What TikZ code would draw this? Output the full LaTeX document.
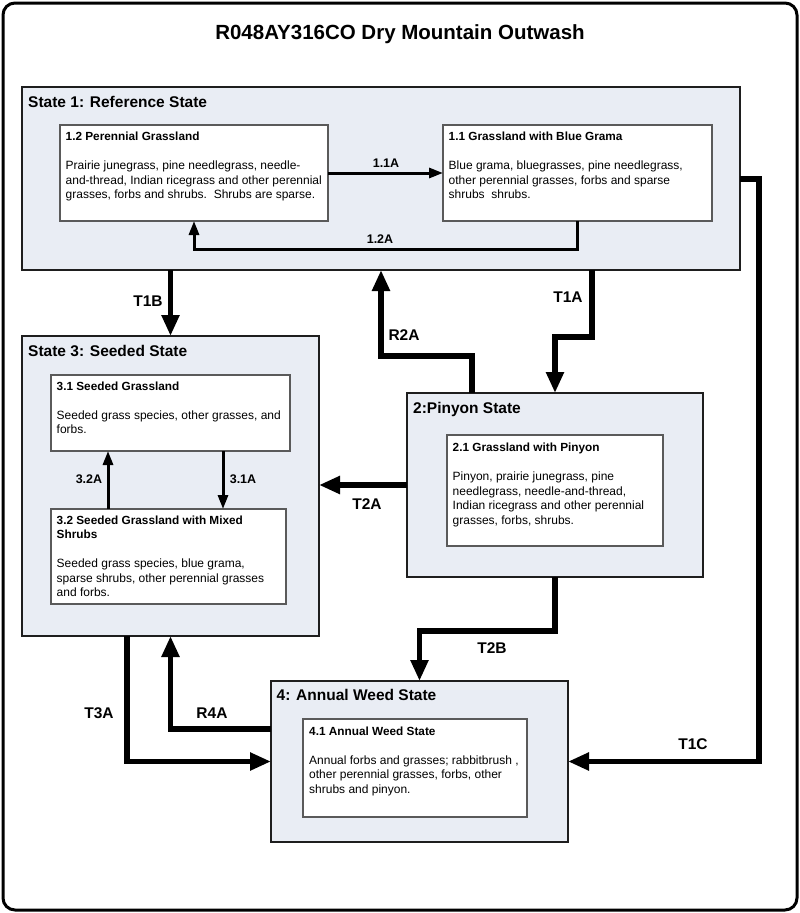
\documentclass[tikz,border=0pt]{standalone}
\usepackage{fontspec}
\setmainfont{Liberation Sans}
\usetikzlibrary{arrows.meta,calc}
\definecolor{statefill}{HTML}{E9EDF4}
\definecolor{stateborder}{HTML}{1E1E1E}
\definecolor{innerborder}{HTML}{5A5A5A}
\begin{document}
\begin{tikzpicture}[x=1pt,y=-1pt,
 statebox/.style={draw=stateborder, line width=2pt, fill=statefill, anchor=north west, inner sep=0pt, outer sep=0pt},
 innerbox/.style={draw=innerborder, line width=1.3pt, fill=white, anchor=north west, inner sep=0pt, outer sep=0pt},
 boxtext/.style={anchor=north west, inner sep=0pt, align=left, font=\fontsize{12}{14.5}\selectfont},
 statelabel/.style={anchor=base west, inner sep=0pt, font=\fontsize{15.5}{18}\selectfont\bfseries},
 biglabel/.style={inner sep=0pt, font=\fontsize{15.5}{18}\selectfont\bfseries},
 smalllabel/.style={inner sep=0pt, font=\fontsize{12.5}{15}\selectfont\bfseries},
 bigarrow/.style={line width=5.5pt, line join=miter, -{Triangle[length=21pt,width=17pt]}},
 smallarrow/.style={line width=3pt, line join=miter, -{Triangle[length=14pt,width=10pt]}},
]
\newcommand{\boxtitle}[1]{{\fontsize{11.8}{14.5}\selectfont\bfseries #1}}
\useasboundingbox (0,0) rectangle (800,913);
\fill[white] (0,0) rectangle (800,913);
\draw[line width=3pt, rounded corners=12pt] (3,3) rectangle (797,910);

\node[font=\fontsize{20.5}{24}\selectfont\bfseries, inner sep=0pt] (title) at (400,34) {R048AY316CO Dry Mountain Outwash};

% state boxes
\node[statebox, minimum width=718pt, minimum height=183pt] (s1) at (22,87) {};
\node[statebox, minimum width=297pt, minimum height=300pt] (s3) at (22,336) {};
\node[statebox, minimum width=296pt, minimum height=184pt] (s2) at (407,393) {};
\node[statebox, minimum width=297pt, minimum height=161pt] (s4) at (271,681) {};

\node[statelabel] (s1lab) at (28,107) {State 1: Reference State};
\node[statelabel] (s3lab) at (28,356) {State 3: Seeded State};
\node[statelabel] (s2lab) at (413,413) {2:Pinyon State};
\node[statelabel] (s4lab) at (276.5,700) {4: Annual Weed State};

% inner boxes
\node[innerbox, minimum width=268pt, minimum height=96pt] (b12) at (60,125) {};
\node[innerbox, minimum width=269pt, minimum height=96pt] (b11) at (443,125) {};
\node[innerbox, minimum width=239pt, minimum height=76pt] (b31) at (51,375) {};
\node[innerbox, minimum width=235pt, minimum height=95pt] (b32) at (51,509) {};
\node[innerbox, minimum width=216pt, minimum height=111pt] (b21) at (447,435) {};
\node[innerbox, minimum width=224pt, minimum height=98pt] (b41) at (303,719) {};

\node[boxtext] (t12) at ($(b12.north west)+(5.5,7.2)$) {\boxtitle{1.2 Perennial Grassland}\\[14.5pt]Prairie junegrass, pine needlegrass, needle-\\and-thread, Indian ricegrass and other perennial\\grasses, forbs and shrubs.\ \ Shrubs are sparse.};
\node[boxtext] (t11) at ($(b11.north west)+(5.5,7.2)$) {\boxtitle{1.1 Grassland with Blue Grama}\\[14.5pt]Blue grama, bluegrasses, pine needlegrass,\\other perennial grasses, forbs and sparse\\shrubs\ \ shrubs.};
\node[boxtext] (t31) at ($(b31.north west)+(5.5,6.5)$) {\boxtitle{3.1 Seeded Grassland}\\[14.5pt]Seeded grass species, other grasses, and\\forbs.};
\node[boxtext] (t32) at ($(b32.north west)+(5.5,6.5)$) {\boxtitle{3.2 Seeded Grassland with Mixed}\\\boxtitle{Shrubs}\\[14.5pt]Seeded grass species, blue grama,\\sparse shrubs, other perennial grasses\\and forbs.};
\node[boxtext] (t21) at ($(b21.north west)+(5.5,8)$) {\boxtitle{2.1 Grassland with Pinyon}\\[14.5pt]Pinyon, prairie junegrass, pine\\needlegrass, needle-and-thread,\\Indian ricegrass and other perennial\\grasses, forbs, shrubs.};
\node[boxtext] (t41) at ($(b41.north west)+(6,7.3)$) {\boxtitle{4.1 Annual Weed State}\\[14.5pt]Annual forbs and grasses; rabbitbrush ,\\other perennial grasses, forbs, other\\shrubs and pinyon.};

% small transitions inside states
\draw[smallarrow] (b12.east) -- (b11.west);
\draw[smallarrow] (b11.south) -- ++(0,28) -| (b12.south);
\draw[smallarrow] ($(b32.north west)+(57,0)$) -- ($(b31.south west)+(57,0)$);
\draw[smallarrow] ($(b31.south west)+(172,0)$) -- ($(b32.north west)+(172,0)$);

\node[smalllabel] (l11a) at (386,163) {1.1A};
\node[smalllabel] (l12a) at (380,239) {1.2A};
\node[smalllabel] (l32a) at (89,479) {3.2A};
\node[smalllabel] (l31a) at (243,479) {3.1A};

% big transitions
\draw[bigarrow] (s1.south -| s3.north) -- (s3.north);
\draw[bigarrow] ($(s2.north west)+(65,0)$) -- ++(0,-37) -| ($(s1.south west)+(359,0)$);
\draw[bigarrow] ($(s1.south west)+(570,0)$) -- ++(0,67) -| (s2.north);
\draw[bigarrow] (s2.west) -- (s2.west -| s3.east);
\draw[bigarrow] (s2.south) -- ++(0,54) -| (s4.north);
\draw[bigarrow] ($(s3.south west)+(105,0)$) |- (s4.west);
\draw[bigarrow] ($(s4.north west)+(0,48)$) -| (s3.south);
\draw[bigarrow] ($(s1.north east)+(0,92)$) -- ++(19,0) |- (s4.east);

\node[biglabel] (lt1b) at (148,301) {T1B};
\node[biglabel] (lr2a) at (404,335) {R2A};
\node[biglabel] (lt1a) at (568,297) {T1A};
\node[biglabel] (lt2a) at (367,504) {T2A};
\node[biglabel] (lt2b) at (492,648) {T2B};
\node[biglabel] (lt3a) at (99,713) {T3A};
\node[biglabel] (lr4a) at (212,713) {R4A};
\node[biglabel] (lt1c) at (693,744) {T1C};
\end{tikzpicture}
\end{document}
